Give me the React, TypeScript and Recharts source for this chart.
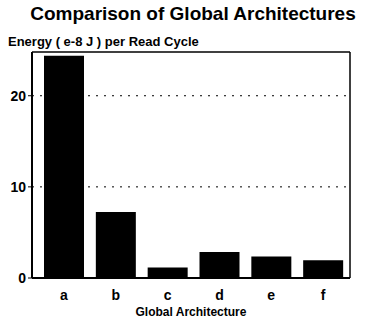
import React from 'react';
import { BarChart, Bar, XAxis, YAxis, CartesianGrid } from 'recharts';

const architectures = ['a', 'b', 'c', 'd', 'e', 'f'];
const energy = [24.4, 7.25, 1.15, 2.85, 2.35, 1.95];
const yTicks = [0, 10, 20];

const chartData = architectures.map((name, i) => ({ name, energy: energy[i] }));

const font = '"Liberation Sans", Arial, sans-serif';

export default function App() {
    return (
        <div style={{ position: 'absolute', left: 0, top: 0, width: 366, height: 320, background: '#fff', fontFamily: font }}>
            <div style={{ position: 'absolute', left: 0, width: 386, top: 3, textAlign: 'center', fontSize: 19, fontWeight: 'bold', color: '#000' }}>
                Comparison of Global Architectures
            </div>
            <div style={{ position: 'absolute', left: 8, top: 34, fontSize: 13, fontWeight: 'bold', color: '#000' }}>
                Energy ( e-8 J ) per Read Cycle
            </div>
            <BarChart
                width={366}
                height={320}
                data={chartData}
                margin={{ top: 51, right: 15, left: 2, bottom: 4 }}
                barSize={40}
            >
                <CartesianGrid vertical={false} horizontalValues={[10, 20]} strokeDasharray="2 6" stroke="#000" />
                <XAxis
                    dataKey="name"
                    height={38}
                    axisLine={{ stroke: '#000', strokeWidth: 2 }}
                    tickLine={false}
                    tickMargin={6}
                    tick={{ fill: '#000', fontSize: 14, fontWeight: 'bold', fontFamily: font }}
                    padding={{ left: 6, right: 1 }}
                    label={{ value: 'Global Architecture', position: 'insideBottom', offset: 0, fill: '#000', fontSize: 12, fontWeight: 'bold', fontFamily: font }}
                />
                <XAxis xAxisId="top" dataKey="name" orientation="top" axisLine={{ stroke: '#000', strokeWidth: 1.5 }} tick={false} tickLine={false} height={1} />
                <YAxis
                    domain={[0, 24.8]}
                    ticks={yTicks}
                    width={30}
                    axisLine={{ stroke: '#000', strokeWidth: 2 }}
                    tickLine={{ stroke: '#000' }}
                    tickSize={4}
                    tick={{ fill: '#000', fontSize: 14, fontWeight: 'bold', fontFamily: font }}
                />
                <YAxis yAxisId="right" orientation="right" domain={[0, 24.8]} axisLine={{ stroke: '#000', strokeWidth: 1.5 }} tick={false} tickLine={false} width={1} />
                <Bar dataKey="energy" fill="#000" isAnimationActive={false} />
            </BarChart>
        </div>
    );
}
